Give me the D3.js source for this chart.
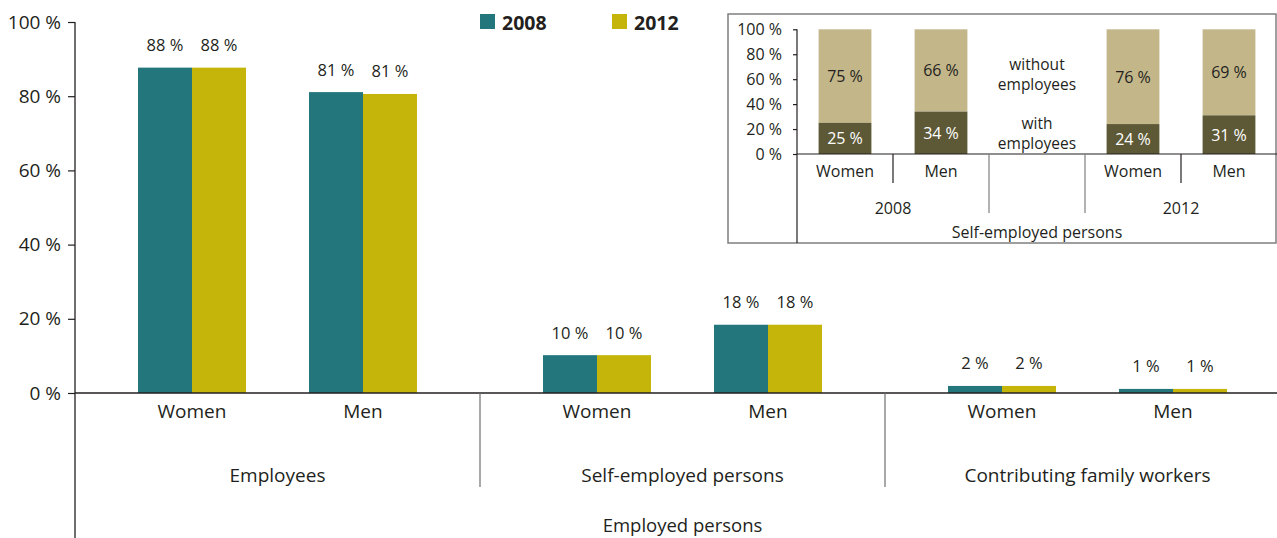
<!DOCTYPE html>
<html>
<head>
<meta charset="utf-8">
<script src="https://cdn.jsdelivr.net/npm/d3@7"></script>
<style>
  html, body { margin: 0; padding: 0; background: #fff; }
  svg { display: block; font-family: "Open Sans", sans-serif; }
</style>
</head>
<body>
<svg id="chart" width="1277" height="538"></svg>
<script>
// Employed persons by status in employment, sex and year (shares in %)
const groups = ["Employees", "Self-employed persons", "Contributing family workers"];
const sexes = ["Women", "Men"];
const years = ["2008", "2012"];
// one value per group × sex, in order: Employees W/M, Self-employed W/M, Family workers W/M
const share2008 = [87.7, 81.1, 10.2, 18.4, 1.9, 1.1];
const share2012 = [87.7, 80.6, 10.2, 18.4, 1.9, 1.1];
const yTicks = [0, 20, 40, 60, 80, 100];

// Self-employed persons: with / without employees
const insetColumns = ["W2008", "M2008", "gap", "W2012", "M2012"];
const insetSex = ["Women", "Men", "", "Women", "Men"];
const insetYears = ["2008", "2012"];
const withEmployees = [25, 34, null, 24, 31];
const withoutEmployees = [75, 66, null, 76, 69];

const colors = { "2008": "#22767c", "2012": "#c5b50b" };
const withColor = "#5d5836";
const withoutColor = "#c3b78a";
const ink = "#231f20";
const pct = v => d3.format(".0f")(v) + " %";

const svg = d3.select("#chart");

// ---------- main chart ----------
const y = d3.scaleLinear().domain([0, 100]).range([393, 22]);
const xGroup = d3.scaleBand().domain(groups).range([75, 1290]);
const xSex = d3.scaleBand().domain(sexes).range([0, xGroup.bandwidth()])
  .paddingInner(63 / 171).paddingOuter(63 / 171);
const xYear = d3.scaleBand().domain(years).range([0, xSex.bandwidth()]);

const rows = [];
groups.forEach((g, gi) => sexes.forEach((s, si) => {
  const i = gi * 2 + si;
  rows.push({ group: g, sex: s, year: "2008", value: share2008[i] });
  rows.push({ group: g, sex: s, year: "2012", value: share2012[i] });
}));
const barX = d => xGroup(d.group) + xSex(d.sex) + xYear(d.year);

svg.append("g").selectAll("rect").data(rows).join("rect")
  .attr("x", barX)
  .attr("y", d => y(d.value))
  .attr("width", xYear.bandwidth())
  .attr("height", d => y(0) - y(d.value))
  .attr("fill", d => colors[d.year]);

svg.append("g").selectAll("text").data(rows).join("text")
  .attr("x", d => barX(d) + xYear.bandwidth() / 2)
  .attr("y", d => y(d.value) - 23)
  .attr("text-anchor", "middle")
  .attr("dominant-baseline", "central")
  .attr("font-size", 16.5)
  .attr("fill", ink)
  .text(d => pct(d.value));

// y axis
const yAxis = svg.append("g").attr("transform", "translate(75,0)")
  .call(d3.axisLeft(y).tickValues(yTicks).tickSize(7).tickPadding(7).tickSizeOuter(0)
    .tickFormat(d => d + " %"));
yAxis.select(".domain").remove();
yAxis.selectAll("line").attr("stroke", ink).attr("stroke-width", 1.2);
yAxis.selectAll("text").attr("font-size", 19).attr("fill", ink)
  .attr("font-family", "Open Sans, sans-serif");

svg.append("line").attr("x1", 75).attr("x2", 75).attr("y1", y(100)).attr("y2", 538)
  .attr("stroke", ink).attr("stroke-width", 1.3);
svg.append("line").attr("x1", 75).attr("x2", 1277).attr("y1", y(0)).attr("y2", y(0))
  .attr("stroke", ink).attr("stroke-width", 1.3);

// group separators
svg.append("g").selectAll("line").data(groups.slice(1)).join("line")
  .attr("x1", d => xGroup(d)).attr("x2", d => xGroup(d))
  .attr("y1", y(0)).attr("y2", 487)
  .attr("stroke", "#6d6e70").attr("stroke-width", 1.2);

// sex labels
const sexLabels = [];
groups.forEach(g => sexes.forEach(s => sexLabels.push({ group: g, sex: s })));
svg.append("g").selectAll("text").data(sexLabels).join("text")
  .attr("x", d => xGroup(d.group) + xSex(d.sex) + xSex.bandwidth() / 2)
  .attr("y", 411)
  .attr("text-anchor", "middle").attr("dominant-baseline", "central")
  .attr("font-size", 19).attr("fill", ink)
  .text(d => d.sex);

svg.append("g").selectAll("text").data(groups).join("text")
  .attr("x", d => xGroup(d) + xGroup.bandwidth() / 2)
  .attr("y", 475)
  .attr("text-anchor", "middle").attr("dominant-baseline", "central")
  .attr("font-size", 19).attr("fill", ink)
  .text(d => d);

svg.append("text")
  .attr("x", (xGroup.range()[0] + xGroup.range()[1]) / 2)
  .attr("y", 532)
  .attr("text-anchor", "middle")
  .attr("font-size", 18.5).attr("fill", ink)
  .text("Employed persons");

// legend
const legendX = d3.scaleOrdinal().domain(years).range([480, 612]);
const legend = svg.append("g").selectAll("g").data(years).join("g")
  .attr("transform", d => `translate(${legendX(d)},14)`);
legend.append("rect").attr("width", 15).attr("height", 15).attr("fill", d => colors[d]);
legend.append("text").attr("x", 22).attr("y", 8)
  .attr("dominant-baseline", "central")
  .attr("font-size", 19.5).attr("font-weight", "bold").attr("fill", ink)
  .text(d => d);

// ---------- inset: self-employed persons with / without employees ----------
const inset = svg.append("g");
inset.append("rect")
  .attr("x", 728).attr("y", 14).attr("width", 548).attr("height", 229)
  .attr("fill", "#fff").attr("stroke", "#7f7f7f").attr("stroke-width", 1.5);

const iy = d3.scaleLinear().domain([0, 100]).range([154, 29.3]);
const ix = d3.scaleBand().domain(insetColumns).range([797, 1277])
  .paddingInner(0.45).paddingOuter(0.225);
const colStart = c => ix(c) - ix.step() * ix.paddingInner() / 2;

const insetRows = insetColumns.map((c, i) => ({
  col: c, withE: withEmployees[i], withoutE: withoutEmployees[i]
})).filter(d => d.withE !== null);

inset.append("g").selectAll("rect").data(insetRows).join("rect")
  .attr("x", d => ix(d.col)).attr("width", ix.bandwidth())
  .attr("y", d => iy(d.withE + d.withoutE))
  .attr("height", d => iy(d.withE) - iy(d.withE + d.withoutE))
  .attr("fill", withoutColor);
inset.append("g").selectAll("rect").data(insetRows).join("rect")
  .attr("x", d => ix(d.col)).attr("width", ix.bandwidth())
  .attr("y", d => iy(d.withE))
  .attr("height", d => iy(0) - iy(d.withE))
  .attr("fill", withColor);

inset.append("g").selectAll("text").data(insetRows).join("text")
  .attr("x", d => ix(d.col) + ix.bandwidth() / 2)
  .attr("y", d => (iy(d.withE) + iy(d.withE + d.withoutE)) / 2)
  .attr("text-anchor", "middle").attr("dominant-baseline", "central")
  .attr("font-size", 16).attr("fill", ink)
  .text(d => pct(d.withoutE));
inset.append("g").selectAll("text").data(insetRows).join("text")
  .attr("x", d => ix(d.col) + ix.bandwidth() / 2)
  .attr("y", d => (iy(0) + iy(d.withE)) / 2)
  .attr("text-anchor", "middle").attr("dominant-baseline", "central")
  .attr("font-size", 16).attr("fill", "#fff")
  .text(d => pct(d.withE));

// segment names in the empty column
const gapX = ix("gap") + ix.bandwidth() / 2;
const segNames = [
  { lines: ["without", "employees"], y: [63.5, 83.5] },
  { lines: ["with", "employees"], y: [122.5, 142.5] }
];
segNames.forEach(s => s.lines.forEach((t, k) => {
  inset.append("text").attr("x", gapX).attr("y", s.y[k])
    .attr("text-anchor", "middle").attr("dominant-baseline", "central")
    .attr("font-size", 15.5).attr("fill", ink).text(t);
}));

// inset y axis
const iAxis = inset.append("g").attr("transform", "translate(797,0)")
  .call(d3.axisLeft(iy).tickValues(yTicks).tickSize(4).tickPadding(11).tickSizeOuter(0)
    .tickFormat(d => d + " %"));
iAxis.select(".domain").remove();
iAxis.selectAll("line").attr("stroke", ink).attr("stroke-width", 1.2);
iAxis.selectAll("text").attr("font-size", 16).attr("fill", ink)
  .attr("font-family", "Open Sans, sans-serif");
inset.append("line").attr("x1", 797).attr("x2", 797).attr("y1", iy(100)).attr("y2", 243)
  .attr("stroke", ink).attr("stroke-width", 1.2);
inset.append("line").attr("x1", 797).attr("x2", 1277).attr("y1", iy(0)).attr("y2", iy(0))
  .attr("stroke", ink).attr("stroke-width", 1.2);

// inset category labels and separators
inset.append("g").selectAll("text").data(insetColumns).join("text")
  .attr("x", d => ix(d) + ix.bandwidth() / 2)
  .attr("y", 171)
  .attr("text-anchor", "middle").attr("dominant-baseline", "central")
  .attr("font-size", 16).attr("fill", ink)
  .text((d, i) => insetSex[i]);

const sexSeps = ["M2008", "M2012"];
inset.append("g").selectAll("line").data(sexSeps).join("line")
  .attr("x1", d => colStart(d)).attr("x2", d => colStart(d))
  .attr("y1", iy(0)).attr("y2", 183)
  .attr("stroke", ink).attr("stroke-width", 1.2);
const yearSeps = ["gap", "W2012"];
inset.append("g").selectAll("line").data(yearSeps).join("line")
  .attr("x1", d => colStart(d)).attr("x2", d => colStart(d))
  .attr("y1", iy(0)).attr("y2", 213)
  .attr("stroke", "#7f7f7f").attr("stroke-width", 1.2);

const yearCenters = [
  (colStart("W2008") + colStart("gap")) / 2,
  (colStart("W2012") + 1277) / 2
];
inset.append("g").selectAll("text").data(insetYears).join("text")
  .attr("x", (d, i) => yearCenters[i]).attr("y", 208)
  .attr("text-anchor", "middle").attr("dominant-baseline", "central")
  .attr("font-size", 16).attr("fill", ink)
  .text(d => d);

inset.append("text")
  .attr("x", (797 + 1277) / 2).attr("y", 232)
  .attr("text-anchor", "middle").attr("dominant-baseline", "central")
  .attr("font-size", 16).attr("fill", ink)
  .text("Self-employed persons");
</script>
</body>
</html>
